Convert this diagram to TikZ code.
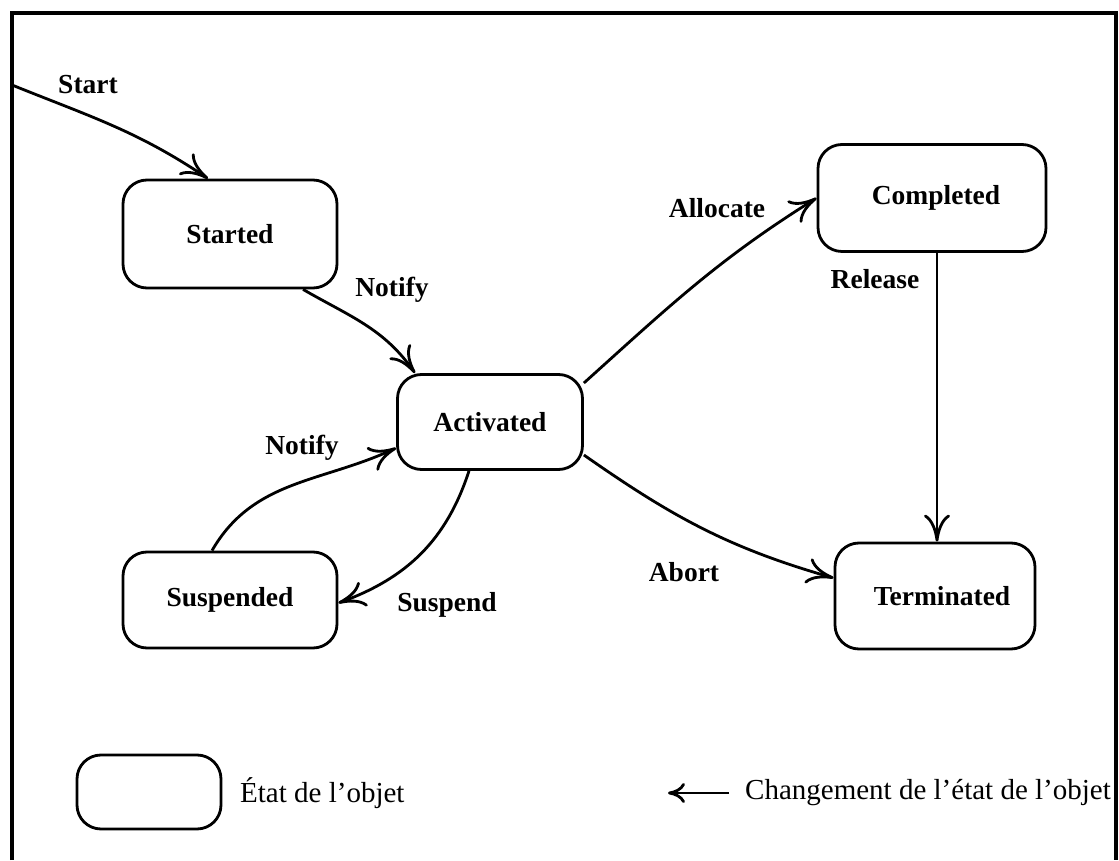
\documentclass[tikz,border=0pt]{standalone}
\usepackage{fontspec}
\setmainfont{Liberation Serif}
\usetikzlibrary{arrows.meta}
\begin{document}
\begin{tikzpicture}[x=1pt,y=1pt,
  state/.style={draw, line width=2.8pt, rounded corners=24pt, inner sep=0pt,
    font=\fontsize{27.5}{30}\selectfont\bfseries},
  trans/.style={line width=2.8pt,
    -{Computer Modern Rightarrow[length=27pt,width=26pt]}},
  lbl/.style={font=\fontsize{27.5}{30}\selectfont\bfseries, inner sep=0pt},
  legtext/.style={font=\fontsize{29}{32}\selectfont, inner sep=0pt, anchor=west}]
\useasboundingbox (0,0) rectangle (1119,860);

% outer frame (open at the bottom)
\draw[line width=3.5pt, line join=miter] (12,0) -- (12,847) -- (1116,847) -- (1116,0);

% states
\node[state, minimum width=214pt, minimum height=108pt] (started)    at (230,626) {Started};
\node[state, minimum width=185pt, minimum height=95pt]  (activated)  at (490,438) {Activated};
\node[state, minimum width=214pt, minimum height=96pt]  (suspended)  at (230,260) {Suspended};
\node[state, minimum width=228pt, minimum height=107pt] (completed)  at (932,662) {\hspace*{8pt}Completed};
\node[state, minimum width=200pt, minimum height=106pt] (terminated) at (935,264) {\hspace*{14pt}Terminated};

% transition labels
\node[lbl] (lstart)    at (88,775)  {Start};
\node[lbl] (lnotifya)  at (392,570) {Notify};
\node[lbl] (lnotifyb)  at (302,412) {Notify};
\node[lbl] (lsuspend)  at (447,255) {Suspend};
\node[lbl] (lallocate) at (717,652) {Allocate};
\node[lbl] (lrelease)  at (875,581) {Release};
\node[lbl] (labort)    at (684,288) {Abort};

% transitions
\coordinate (entry) at (12,775);
\draw[trans] (entry) to[out=-22,in=146] ([xshift=-22pt]started.north);
\draw[trans] ([xshift=73pt]started.south) to[out=-30,in=125] ([xshift=-75pt]activated.north);
\draw[trans] ([xshift=-18pt]suspended.north) to[out=60,in=205] ([yshift=-26pt]activated.west);
\draw[trans] ([xshift=-21pt]activated.south) to[out=-108,in=20] ([yshift=-3pt]suspended.east);
\draw[trans] ([yshift=39pt]activated.east) to[out=42,in=212] (completed.west);
\draw[trans] ([xshift=5pt]completed.south) -- ([xshift=5pt]completed.south |- terminated.north);
\draw[trans] ([yshift=-33pt]activated.east) to[out=-35,in=164] ([yshift=18pt]terminated.west);

% legend
\node[state, minimum width=144pt, minimum height=74pt] (legbox) at (149,68) {};
\node[legtext] (etat) at (240,67) {État de l'objet};
\node[legtext] (chg)  at (745,67) {Changement de l'état de l'objet};
\draw[line width=2.8pt, -{Computer Modern Rightarrow[length=17pt,width=20pt]}]
  ([xshift=-16pt]chg.west) -- ([xshift=-77pt]chg.west);
\end{tikzpicture}
\end{document}
